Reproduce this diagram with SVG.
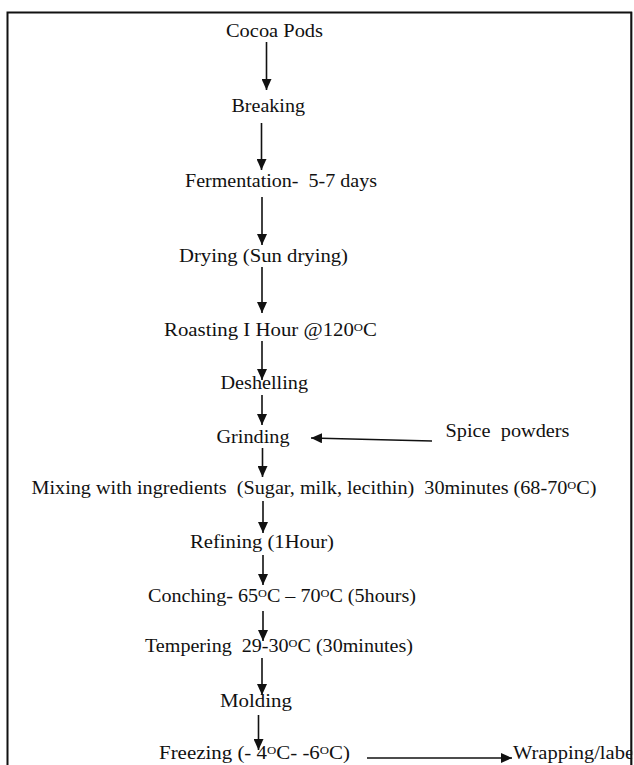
<svg xmlns="http://www.w3.org/2000/svg" width="634" height="765" viewBox="0 0 634 765">
<style>
text{font-family:"Liberation Serif","Times New Roman",serif;font-size:18px;fill:#111;white-space:pre}
.deg{font-size:11px}
.c line{stroke:#111;stroke-width:1.6;fill:none}
</style>
<defs>
<marker id="ah" markerUnits="userSpaceOnUse" markerWidth="11" markerHeight="10" refX="11" refY="5" orient="auto">
<path d="M0,0 L11,5 L0,10 Z" fill="#111"/>
</marker>
</defs>
<rect width="634" height="765" fill="#fff"/>
<g id="frame" fill="none" stroke="#111" stroke-width="2">
<polyline points="7.5,765 7.5,12.5 631.5,12.5 631.5,765"/>
</g>
<g id="n1"><text x="226" y="37" textLength="97" lengthAdjust="spacingAndGlyphs">Cocoa Pods</text></g>
<g id="n2"><text x="231.5" y="112" textLength="73.5" lengthAdjust="spacingAndGlyphs">Breaking</text></g>
<g id="n3"><text x="185" y="187" textLength="192" lengthAdjust="spacingAndGlyphs">Fermentation-  5-7 days</text></g>
<g id="n4"><text x="179" y="262" textLength="169" lengthAdjust="spacingAndGlyphs">Drying (Sun drying)</text></g>
<g id="n5"><text x="164" y="336" textLength="213" lengthAdjust="spacingAndGlyphs">Roasting I Hour @120<tspan class="deg" dy="-5">O</tspan><tspan dy="5">C</tspan></text></g>
<g id="n6"><text x="220.5" y="389" textLength="87.5" lengthAdjust="spacingAndGlyphs">Deshelling</text></g>
<g id="n7"><text x="216.5" y="442.5" textLength="73" lengthAdjust="spacingAndGlyphs">Grinding</text></g>
<g id="n8"><text x="445.5" y="437" textLength="124" lengthAdjust="spacingAndGlyphs">Spice  powders</text></g>
<g id="n9"><text x="31.5" y="494" textLength="565" lengthAdjust="spacingAndGlyphs">Mixing with ingredients  (Sugar, milk, lecithin)  30minutes (68-70<tspan class="deg" dy="-5">O</tspan><tspan dy="5">C)</tspan></text></g>
<g id="n10"><text x="190" y="548" textLength="144" lengthAdjust="spacingAndGlyphs">Refining (1Hour)</text></g>
<g id="n11"><text x="148" y="601.5" textLength="268" lengthAdjust="spacingAndGlyphs">Conching- 65<tspan class="deg" dy="-5">O</tspan><tspan dy="5">C – 70</tspan><tspan class="deg" dy="-5">O</tspan><tspan dy="5">C (5hours)</tspan></text></g>
<g id="n12"><text x="145" y="651.5" textLength="268" lengthAdjust="spacingAndGlyphs">Tempering  29-30<tspan class="deg" dy="-5">O</tspan><tspan dy="5">C (30minutes)</tspan></text></g>
<g id="n13"><text x="220" y="706.5" textLength="72" lengthAdjust="spacingAndGlyphs">Molding</text></g>
<g id="n14"><text x="159" y="759" textLength="191" lengthAdjust="spacingAndGlyphs">Freezing (- 4<tspan class="deg" dy="-5">O</tspan><tspan dy="5">C- -6</tspan><tspan class="deg" dy="-5">O</tspan><tspan dy="5">C)</tspan></text></g>
<g id="n15"><text x="513" y="759" textLength="121" lengthAdjust="spacingAndGlyphs">Wrapping/labe</text></g>
<g id="connectors" class="c">
<line x1="266.5" y1="42" x2="266.5" y2="90" marker-end="url(#ah)"/>
<line x1="261.5" y1="123" x2="261.5" y2="170" marker-end="url(#ah)"/>
<line x1="262" y1="197" x2="262" y2="245" marker-end="url(#ah)"/>
<line x1="262" y1="267" x2="262" y2="313" marker-end="url(#ah)"/>
<line x1="262" y1="341" x2="262" y2="380" marker-end="url(#ah)"/>
<line x1="262" y1="395" x2="262" y2="425" marker-end="url(#ah)"/>
<line x1="262.5" y1="448" x2="262.5" y2="477" marker-end="url(#ah)"/>
<line x1="263" y1="501" x2="263" y2="533" marker-end="url(#ah)"/>
<line x1="263" y1="555" x2="263" y2="585" marker-end="url(#ah)"/>
<line x1="263" y1="611" x2="263" y2="641" marker-end="url(#ah)"/>
<line x1="262" y1="658" x2="262" y2="695" marker-end="url(#ah)"/>
<line x1="258.5" y1="715" x2="258.5" y2="750" marker-end="url(#ah)"/>
<line x1="432" y1="441" x2="311" y2="438" marker-end="url(#ah)"/>
<line x1="367" y1="758" x2="512" y2="758" marker-end="url(#ah)"/>
</g>
<g id="frame-right" fill="none" stroke="#111" stroke-width="2"><line x1="631.5" y1="12" x2="631.5" y2="765"/></g>
<rect x="632.5" y="0" width="2" height="765" fill="#fff"/>
</svg>
